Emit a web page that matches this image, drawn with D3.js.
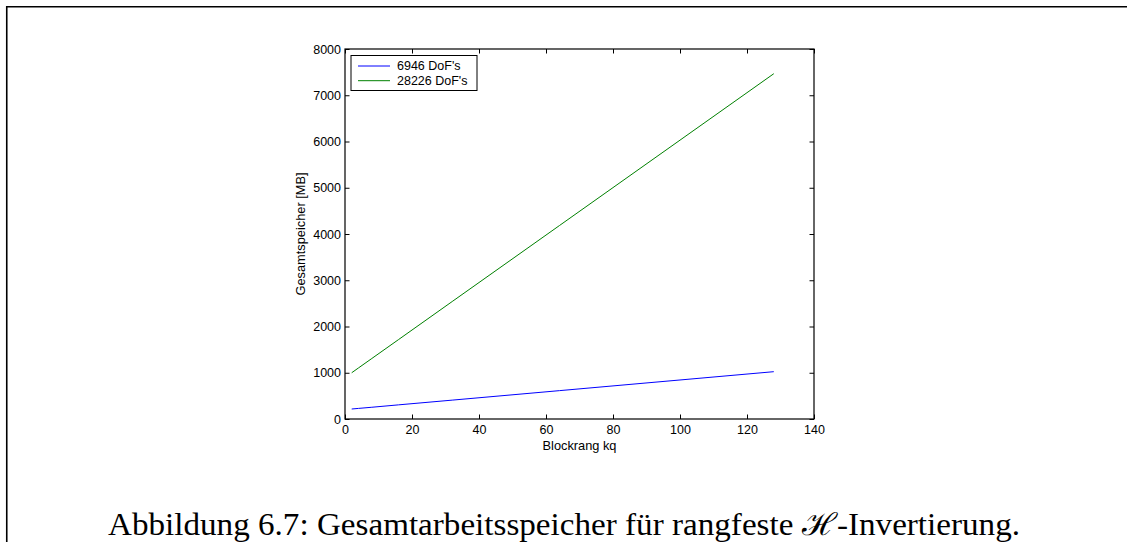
<!DOCTYPE html>
<html>
<head>
<meta charset="utf-8">
<script src="https://cdn.jsdelivr.net/npm/d3@7"></script>
<style>
  html, body { margin: 0; padding: 0; background: #fff; }
  svg { display: block; }
  .tick text { font-family: "Liberation Sans", Arial, Helvetica, sans-serif; font-size: 12.5px; fill: #000; }
</style>
</head>
<body>
<svg id="chart" width="1127" height="542"></svg>
<script>
// Block rank kq (x values)
const kq = [2, 4, 8, 16, 32, 64, 128];
// Total memory in MB for each problem size
const mem6946 = [216, 229, 254, 306, 408, 613, 1023];
const mem28226 = [1000, 1103, 1308, 1718, 2540, 4182, 7466];
const seriesNames = ["6946 DoF's", "28226 DoF's"];
const seriesColors = ["#0000ff", "#008000"];
const xTicks = [0, 20, 40, 60, 80, 100, 120, 140];
const yTicks = [0, 1000, 2000, 3000, 4000, 5000, 6000, 7000, 8000];

const svg = d3.select("#chart");
const W = 1127, H = 542;
const plot = { left: 345, right: 814, top: 49, bottom: 419 };
const sans = '"Liberation Sans", Arial, Helvetica, sans-serif';

// Page frame (top and left rule)
svg.append("path")
  .attr("d", `M6.75,${H} V6.75 H${W}`)
  .attr("fill", "none").attr("stroke", "#000").attr("stroke-width", 1.6);

const x = d3.scaleLinear().domain([0, 140]).range([plot.left, plot.right]);
const y = d3.scaleLinear().domain([0, 8000]).range([plot.bottom, plot.top]);

const tickLen = 4.5;
const fmt = d3.format("d");

// Bottom axis with inward ticks
const gx = svg.append("g").attr("transform", `translate(0,${plot.bottom})`)
  .call(d3.axisBottom(x).tickValues(xTicks).tickFormat(fmt).tickSizeInner(-tickLen).tickSizeOuter(0).tickPadding(6.5));
// Top axis (ticks only)
const gxt = svg.append("g").attr("transform", `translate(0,${plot.top})`)
  .call(d3.axisTop(x).tickValues(xTicks).tickFormat("").tickSizeInner(-tickLen).tickSizeOuter(0));
// Left axis
const gy = svg.append("g").attr("transform", `translate(${plot.left},0)`)
  .call(d3.axisLeft(y).tickValues(yTicks).tickFormat(fmt).tickSizeInner(-tickLen).tickSizeOuter(0).tickPadding(4));
// Right axis (ticks only)
const gyr = svg.append("g").attr("transform", `translate(${plot.right},0)`)
  .call(d3.axisRight(y).tickValues(yTicks).tickFormat("").tickSizeInner(-tickLen).tickSizeOuter(0));

[gx, gxt, gy, gyr].forEach(g => {
  g.select(".domain").remove();
  g.selectAll(".tick line").attr("stroke", "#000").attr("stroke-width", 1);
});
gx.selectAll(".tick text").attr("dy", "0.71em");

// Plot box
svg.append("rect")
  .attr("x", plot.left).attr("y", plot.top)
  .attr("width", plot.right - plot.left).attr("height", plot.bottom - plot.top)
  .attr("fill", "none").attr("stroke", "#000").attr("stroke-width", 1.2);

// Data lines
const line = d3.line().x((d, i) => x(kq[i])).y(d => y(d));
[mem6946, mem28226].forEach((vals, i) => {
  svg.append("path")
    .datum(vals)
    .attr("d", line)
    .attr("fill", "none")
    .attr("stroke", seriesColors[i])
    .attr("stroke-width", 1);
});

// Axis labels
svg.append("text")
  .attr("x", (plot.left + plot.right) / 2).attr("y", 450)
  .attr("text-anchor", "middle")
  .attr("font-family", sans).attr("font-size", 12.8)
  .text("Blockrang kq");

svg.append("text")
  .attr("transform", `translate(305,234) rotate(-90)`)
  .attr("text-anchor", "middle")
  .attr("font-family", sans).attr("font-size", 12.8)
  .text("Gesamtspeicher [MB]");

// Legend
const lg = svg.append("g");
lg.append("rect")
  .attr("x", 351).attr("y", 55.5).attr("width", 126).attr("height", 35)
  .attr("fill", "#fff").attr("stroke", "#000").attr("stroke-width", 1);
seriesNames.forEach((name, i) => {
  const yy = 66 + i * 14.7;
  lg.append("line")
    .attr("x1", 358).attr("x2", 390).attr("y1", yy).attr("y2", yy)
    .attr("stroke", seriesColors[i]).attr("stroke-width", 1);
  lg.append("text")
    .attr("x", 397).attr("y", yy).attr("dy", "0.35em")
    .attr("font-family", sans).attr("font-size", 12.5)
    .text(name);
});

// Caption
svg.append("text")
  .attr("x", 564).attr("y", 535)
  .attr("text-anchor", "middle")
  .attr("font-family", '"Liberation Serif", "DejaVu Serif", serif')
  .attr("font-size", 31)
  .attr("textLength", 912)
  .attr("lengthAdjust", "spacingAndGlyphs")
  .text("Abbildung 6.7: Gesamtarbeitsspeicher für rangfeste ℋ-Invertierung.");
</script>
</body>
</html>
